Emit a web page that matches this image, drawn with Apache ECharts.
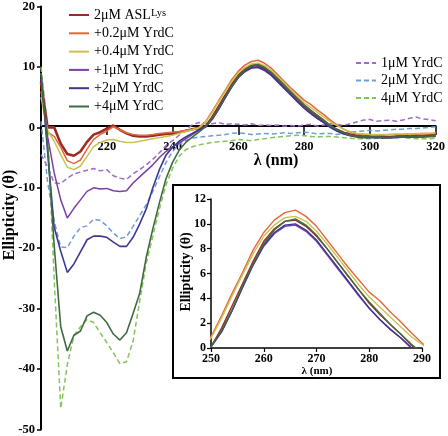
<!DOCTYPE html>
<html><head><meta charset="utf-8">
<script src="https://cdn.jsdelivr.net/npm/echarts@6/dist/echarts.min.js"></script>
<style>html,body{margin:0;padding:0;background:#fff}#c{width:448px;height:436px}</style>
</head><body><div id="c"></div>
<script>
// wavelength (nm)
const wavelengths = [200,202,204,206,208,210,212,214,216,218,220,222,224,226,228,230,232,234,236,238,240,242,244,246,248,250,252,254,256,258,260,262,264,266,268,270,272,274,276,278,280,282,284,286,288,290,292,294,296,298,300,302,304,306,308,310,312,314,316,318,320];
// ellipticity per series
const asl = [7.5,0.0,0.0,-2.7,-4.4,-4.7,-4.0,-2.4,-1.2,-0.8,-0.2,0.3,-0.4,-1.0,-1.4,-1.5,-1.5,-1.4,-1.2,-1.1,-1.0,-0.8,-0.6,-0.3,-0.1,0.1,1.6,3.4,5.2,7.0,8.6,9.6,10.2,10.3,9.8,9.0,8.0,6.9,5.8,4.7,3.6,2.7,1.9,1.1,0.2,-0.4,-0.9,-1.2,-1.4,-1.5,-1.5,-1.6,-1.6,-1.6,-1.5,-1.5,-1.5,-1.4,-1.4,-1.3,-1.2];
const yrdc02 = [6.0,-0.8,-1.5,-3.3,-5.5,-6.0,-5.4,-3.6,-2.0,-1.2,-0.6,0.1,-0.4,-0.9,-1.2,-1.3,-1.3,-1.2,-1.0,-0.9,-0.8,-0.7,-0.5,-0.3,0.0,0.9,2.6,4.4,6.1,7.9,9.3,10.3,10.9,11.1,10.6,9.8,8.7,7.6,6.5,5.5,4.5,3.8,2.9,2.1,1.2,0.4,-0.3,-0.8,-1.1,-1.2,-1.2,-1.3,-1.3,-1.2,-1.2,-1.2,-1.1,-1.1,-1.0,-1.0,-1.0];
const yrdc04 = [5.0,-0.5,-2.3,-4.5,-6.6,-7.0,-6.4,-4.8,-3.2,-2.5,-2.1,-2.0,-2.3,-2.5,-2.5,-2.3,-2.1,-1.9,-1.7,-1.5,-1.3,-1.0,-0.7,-0.4,-0.1,0.8,2.4,4.2,5.9,7.6,9.0,9.9,10.5,10.6,10.2,9.4,8.4,7.3,6.2,5.1,4.1,3.3,2.5,1.7,0.9,0.3,-0.3,-0.7,-1.0,-1.1,-1.2,-1.2,-1.2,-1.2,-1.1,-1.1,-1.1,-1.0,-1.0,-1.0,-0.9];
const yrdc1 = [8.0,-1.5,-7.5,-12.0,-15.0,-13.4,-12.0,-10.6,-10.0,-10.2,-10.1,-10.5,-10.6,-10.5,-9.2,-8.2,-7.2,-6.2,-5.0,-4.0,-3.2,-2.6,-1.9,-1.2,-0.5,0.1,1.3,3.0,4.9,6.7,8.2,9.2,9.8,9.9,9.4,8.6,7.5,6.4,5.3,4.2,3.2,2.3,1.5,0.8,0.0,-0.6,-1.0,-1.3,-1.5,-1.6,-1.6,-1.6,-1.7,-1.7,-1.6,-1.6,-1.6,-1.6,-1.5,-1.5,-1.4];
const yrdc2 = [9.0,-4.0,-16.5,-20.5,-24.0,-22.6,-20.6,-18.6,-18.0,-18.0,-18.2,-19.0,-19.7,-19.7,-18.2,-16.0,-13.5,-10.0,-7.0,-4.6,-3.3,-2.3,-1.6,-1.0,-0.4,0.1,1.3,3.0,4.9,6.7,8.3,9.3,9.9,10.0,9.5,8.7,7.6,6.5,5.4,4.3,3.2,2.3,1.5,0.8,0.0,-0.6,-1.1,-1.4,-1.6,-1.7,-1.7,-1.7,-1.7,-1.7,-1.7,-1.6,-1.6,-1.6,-1.6,-1.5,-1.5];
const yrdc4 = [9.0,-3.0,-19.5,-33.0,-37.0,-34.4,-33.7,-31.2,-30.6,-31.1,-32.3,-34.2,-35.2,-34.0,-30.8,-27.5,-21.5,-16.8,-12.5,-8.5,-5.8,-3.8,-2.5,-1.6,-0.8,0.1,1.4,3.1,5.0,6.8,8.4,9.5,10.2,10.4,9.9,9.1,8.0,6.9,5.8,4.7,3.7,2.8,1.9,1.1,0.3,-0.4,-0.9,-1.3,-1.5,-1.6,-1.6,-1.6,-1.7,-1.7,-1.6,-1.6,-1.6,-1.5,-1.5,-1.5,-1.4];
const only1 = [-4.5,-6.5,-9.2,-9.3,-8.4,-7.7,-7.4,-7.1,-6.8,-7.2,-7.0,-8.0,-8.4,-8.6,-7.7,-7.0,-6.2,-5.3,-4.2,-3.0,-2.2,-1.3,-0.4,0.4,0.8,0.7,0.6,0.8,0.5,0.6,0.5,0.4,0.6,0.3,0.4,0.3,0.4,0.2,0.3,0.2,0.4,0.5,0.2,0.4,0.6,0.5,0.3,0.6,0.9,1.2,1.3,1.0,1.1,1.2,1.0,1.2,1.5,1.7,1.4,1.3,1.1];
const only2 = [1.0,-9.0,-15.5,-19.8,-19.9,-18.0,-16.6,-16.3,-15.2,-15.4,-16.3,-17.5,-18.4,-18.1,-16.4,-14.6,-12.8,-10.6,-8.2,-5.8,-4.0,-2.8,-2.2,-1.8,-1.6,-1.5,-1.4,-1.3,-1.2,-1.0,-0.9,-1.0,-1.2,-1.1,-1.0,-1.1,-1.0,-0.9,-1.0,-0.9,-0.8,-0.9,-1.1,-1.0,-1.0,-1.2,-1.0,-0.8,-0.7,-0.6,-0.5,-0.6,-0.5,-0.4,-0.3,-0.3,-0.2,-0.2,-0.1,0.0,0.1];
const only4 = [10.0,0.0,-25.0,-46.5,-39.3,-34.5,-33.0,-31.8,-32.3,-34.0,-35.6,-37.3,-39.1,-38.8,-35.4,-28.8,-22.5,-18.0,-13.5,-9.5,-6.8,-4.8,-3.7,-3.2,-2.9,-2.7,-2.5,-2.4,-2.3,-2.2,-2.0,-2.1,-2.2,-2.0,-1.9,-1.7,-1.6,-1.5,-1.4,-1.3,-1.4,-1.5,-1.6,-1.5,-1.5,-1.6,-1.7,-1.8,-1.9,-1.9,-1.9,-1.8,-1.8,-1.7,-1.6,-1.7,-1.8,-1.9,-1.9,-1.9,-1.8];
// axis ticks
const mainXTicks = {min:200, max:320, interval:20};
const mainYTicks = {min:-50, max:20, interval:10};
const insetXTicks = {min:250, max:290, interval:10};
const insetYTicks = {min:0, max:12, interval:2};

const FONT = '"Liberation Serif","Times New Roman",serif';
const pairs = arr => wavelengths.map((w,i)=>[w,arr[i]]);

const solid = [
  {name:'2μM ASL', data:asl, color:'#9b2b24', w:2.6},
  {name:'+0.2μM YrdC', data:yrdc02, color:'#e4673e', w:1.5},
  {name:'+0.4μM YrdC', data:yrdc04, color:'#c8c24e', w:1.5},
  {name:'+1μM YrdC', data:yrdc1, color:'#7c3fa2', w:1.5},
  {name:'+2μM YrdC', data:yrdc2, color:'#3d3790', w:1.6},
  {name:'+4μM YrdC', data:yrdc4, color:'#3f6b42', w:1.6}
];
const dashed = [
  {name:'1μM YrdC', data:only1, color:'#9b6cc8'},
  {name:'2μM YrdC', data:only2, color:'#6f9dd6'},
  {name:'4μM YrdC', data:only4, color:'#84c45a'}
];

const series = [];
dashed.forEach(s=>series.push({type:'line', name:s.name, data:pairs(s.data), xAxisIndex:0, yAxisIndex:0,
  symbol:'none', color:s.color, lineStyle:{color:s.color, width:1.5, type:[5,3]}, z:2}));
solid.forEach(s=>series.push({type:'line', name:s.name, data:pairs(s.data), xAxisIndex:0, yAxisIndex:0,
  symbol:'none', color:s.color, lineStyle:{color:s.color, width:s.w}, z:3}));
solid.forEach(s=>series.push({type:'line', name:s.name, data:pairs(s.data), xAxisIndex:1, yAxisIndex:1,
  symbol:'none', color:s.color, lineStyle:{color:s.color, width:1.4}, z:4, clip:true}));

const lbl = (size, margin) => ({fontFamily:FONT, fontWeight:'bold', fontSize:size, color:'#000', margin:margin});

const chart = echarts.init(document.getElementById('c'), null, {renderer:'canvas'});
// main grid geometry; x axis is moved up to the y=0 line
const mainGrid = {left:41, top:5, width:396, height:425};
const zeroOffset = -mainGrid.height * (0 - mainYTicks.min) / (mainYTicks.max - mainYTicks.min);
chart.setOption({
  animation:false,
  backgroundColor:'#fff',
  grid:[mainGrid,{left:211, top:199, width:211, height:149}],
  xAxis:[
    {type:'value', gridIndex:0, ...mainXTicks, position:'bottom', offset:zeroOffset,
     axisLine:{onZero:false, lineStyle:{color:'#000', width:2}},
     axisTick:{length:9, lineStyle:{color:'#000', width:1.5}},
     axisLabel:{...lbl(12.5,14), showMinLabel:false},
     splitLine:{show:false}},
    {type:'value', gridIndex:1, ...insetXTicks,
     axisLine:{onZero:false, lineStyle:{color:'#000', width:1.5}},
     axisTick:{length:4, lineStyle:{color:'#000', width:1.2}},
     axisLabel:lbl(12,5),
     splitLine:{show:false}}
  ],
  yAxis:[
    {type:'value', gridIndex:0, ...mainYTicks,
     axisLine:{show:true, onZero:false, lineStyle:{color:'#000', width:2}},
     axisTick:{show:true, length:4, lineStyle:{color:'#000', width:1.5}},
     axisLabel:lbl(12.5,6),
     splitLine:{show:false}},
    {type:'value', gridIndex:1, ...insetYTicks,
     axisLine:{show:true, onZero:false, lineStyle:{color:'#000', width:1.5}},
     axisTick:{show:true, length:4, lineStyle:{color:'#000', width:1.2}},
     axisLabel:lbl(12,5),
     splitLine:{show:false}}
  ],
  legend:[
    {orient:'vertical', left:68, top:8, padding:0, itemWidth:20, itemHeight:14, itemGap:4.3,
     itemStyle:{opacity:0},
     data:solid.map(s=>s.name),
     formatter: n => n==='2μM ASL' ? '{a|2μM ASL}{s|Lys}' : n,
     textStyle:{fontFamily:FONT, fontSize:14, color:'#000', lineHeight:14,
       rich:{a:{fontFamily:FONT, fontSize:14, color:'#000', lineHeight:14},
             s:{fontFamily:FONT, fontSize:10.5, color:'#000', lineHeight:5, verticalAlign:'top'}}}},
    {orient:'vertical', left:355, top:56, padding:0, itemWidth:20, itemHeight:14, itemGap:3.5,
     itemStyle:{opacity:0},
     data:dashed.map(s=>s.name),
     textStyle:{fontFamily:FONT, fontSize:14, color:'#000', lineHeight:14}}
  ],
  graphic:[
    {type:'text', x:10, y:215, rotation:Math.PI/2,
     style:{text:'Ellipticity (θ)', fontFamily:FONT, fontWeight:'bold', fontSize:16, fill:'#000', align:'center', verticalAlign:'middle'}},
    {type:'text', x:276, y:161,
     style:{text:'λ (nm)', fontFamily:FONT, fontWeight:'bold', fontSize:16, fill:'#000', align:'center', verticalAlign:'middle'}},
    {type:'rect', shape:{x:173, y:185, width:267, height:193},
     style:{fill:'none', stroke:'#000', lineWidth:2}},
    {type:'text', x:186, y:272, rotation:Math.PI/2,
     style:{text:'Ellipticity (θ)', fontFamily:FONT, fontWeight:'bold', fontSize:14, fill:'#000', align:'center', verticalAlign:'middle'}},
    {type:'text', x:317, y:371,
     style:{text:'λ (nm)', fontFamily:FONT, fontWeight:'bold', fontSize:11, fill:'#000', align:'center', verticalAlign:'middle'}}
  ],
  series: series
});
</script>
</body></html>
